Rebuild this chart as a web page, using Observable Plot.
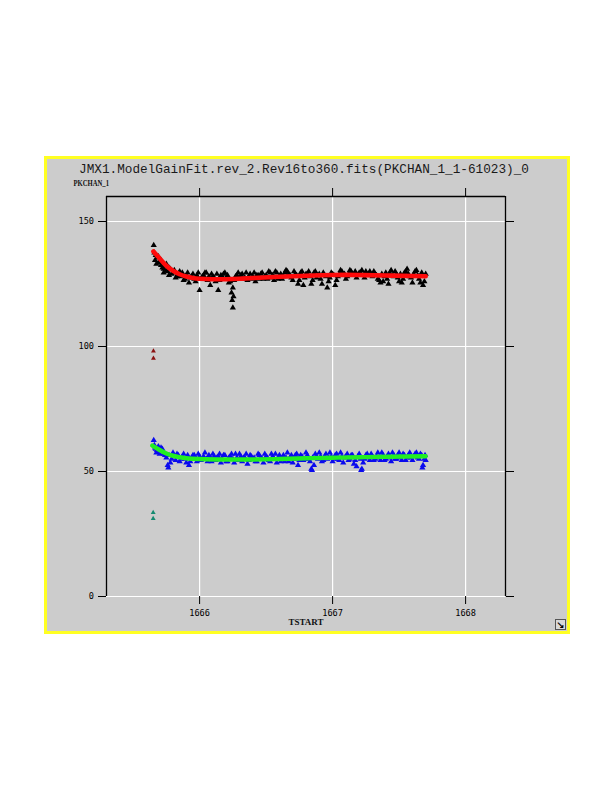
<!DOCTYPE html>
<html>
<head>
<meta charset="utf-8">
<script src="https://cdn.jsdelivr.net/npm/d3@7"></script>
<script src="https://cdn.jsdelivr.net/npm/@observablehq/plot@0.6"></script>
<style>
  html, body { margin: 0; padding: 0; background: #ffffff; }
  #wrap { position: relative; width: 612px; height: 792px; overflow: hidden; }
  #wrap > svg { position: absolute; left: 0; top: 0; }
</style>
</head>
<body>
<div id="wrap"></div>
<script>
// ---------- data ----------
const titleText = "JMX1.ModelGainFit.rev_2.Rev16to360.fits(PKCHAN_1_1-61023)_0";
const yLabel = "PKCHAN_1";
const xLabel = "TSTART";
const xTicks = [1666, 1667, 1668];
const yTicks = [0, 50, 100, 150];

// upper (black) measured points [TSTART, PKCHAN_1]
const highPoints = [
  [1665.655,140.5],[1665.665,134.5],[1665.675,133.0],[1665.69,136.0],[1665.71,132.5],[1665.73,129.5],[1665.75,133.0],[1665.77,128.5],
  [1665.66,137.5],[1665.68,135.5],[1665.70,134.0],[1665.72,131.5],[1665.74,132.0],[1665.76,130.0],[1665.78,131.0],[1665.80,129.5],
  [1665.82,127.5],[1665.84,129.0],[1665.86,128.0],[1665.88,126.5],[1665.90,128.5],[1665.92,125.5],[1665.94,128.0],[1665.96,127.0],
  [1665.98,128.5],[1666.00,122.5],[1666.02,128.0],[1666.04,129.5],[1666.06,126.5],[1666.08,124.5],[1666.10,128.0],[1666.12,126.0],
  [1666.14,122.5],[1666.16,128.5],[1666.18,129.0],[1666.20,127.0],[1666.22,125.5],[1666.24,121.5],[1666.245,118.5],[1666.25,115.5],
  [1666.255,120.0],[1666.26,126.5],[1666.28,128.5],[1666.30,127.0],[1666.32,129.0],[1666.34,127.5],[1666.36,126.5],[1666.38,129.0],
  [1666.40,128.0],[1666.42,126.0],[1666.44,128.5],[1666.46,129.0],[1666.48,127.0],[1666.50,128.5],[1666.52,130.0],[1666.54,127.5],
  [1666.56,126.5],[1666.58,129.5],[1666.60,128.0],[1666.62,127.0],[1666.64,129.5],[1666.66,130.0],[1666.68,128.5],[1666.70,126.5],
  [1666.72,129.0],[1666.74,125.0],[1666.76,129.5],[1666.78,124.5],[1666.80,129.0],[1666.82,130.0],[1666.84,125.0],[1666.86,129.5],
  [1666.88,127.5],[1666.90,129.0],[1666.92,125.0],[1666.94,128.5],[1666.96,123.5],[1666.98,127.5],[1667.00,129.0],[1667.02,124.5],
  [1667.04,128.0],[1667.06,130.5],[1667.08,128.5],[1667.10,127.0],[1667.12,129.0],[1667.14,130.0],[1667.16,128.5],[1667.18,127.5],
  [1667.20,129.5],[1667.22,130.5],[1667.24,127.5],[1667.26,128.5],[1667.28,130.0],[1667.30,128.0],[1667.32,129.0],[1667.34,127.0],
  [1667.36,125.5],[1667.38,126.0],[1667.40,129.5],[1667.42,125.0],[1667.44,130.5],[1667.46,128.0],[1667.48,129.0],[1667.50,126.0],
  [1667.52,125.5],[1667.54,129.5],[1667.56,131.0],[1667.58,128.0],[1667.60,125.5],[1667.62,130.0],[1667.64,128.5],[1667.66,125.5],
  [1667.68,124.5],[1667.70,129.0],
  [1665.67,136.5],[1665.69,133.5],[1665.71,134.5],[1665.73,131.0],[1665.75,130.5],[1665.77,131.5],[1665.79,129.0],[1665.81,130.5],
  [1665.83,128.0],[1665.85,130.0],[1665.87,129.5],[1665.89,127.0],[1665.91,129.5],[1665.93,127.5],[1665.95,129.0],[1665.97,126.0],
  [1665.99,129.5],[1666.01,127.0],[1666.03,128.5],[1666.05,129.5],[1666.07,128.0],[1666.09,129.0],[1666.11,127.5],[1666.13,129.0],
  [1666.15,126.5],[1666.17,128.0],[1666.19,129.5],[1666.21,128.5],[1666.23,126.0],[1666.25,123.5],[1666.27,128.0],[1666.29,129.5],
  [1666.31,128.5],[1666.33,127.0],[1666.35,129.5],[1666.37,128.0],[1666.39,127.0],[1666.41,129.5],[1666.43,128.5],[1666.45,127.0],
  [1666.47,129.5],[1666.49,128.0],[1666.51,127.0],[1666.53,129.5],[1666.55,128.5],[1666.57,130.0],[1666.59,127.0],[1666.61,129.0],
  [1666.63,128.0],[1666.65,130.5],[1666.67,129.0],[1666.69,127.5],[1666.71,130.0],[1666.73,128.5],[1666.75,126.5],[1666.77,130.0],
  [1666.79,127.5],[1666.81,129.0],[1666.83,128.0],[1666.85,126.5],[1666.87,130.0],[1666.89,128.5],[1666.91,127.0],[1666.93,129.5],
  [1666.95,128.0],[1666.97,126.0],[1666.99,129.5],[1667.01,128.5],[1667.03,126.5],[1667.05,129.0],[1667.07,130.0],[1667.09,129.0],
  [1667.11,128.0],[1667.13,130.5],[1667.15,129.0],[1667.17,130.0],[1667.19,128.5],[1667.21,129.5],[1667.23,128.5],[1667.25,130.0],
  [1667.27,129.0],[1667.29,128.5],[1667.31,130.0],[1667.33,128.5],[1667.35,126.5],[1667.37,129.0],[1667.39,128.0],[1667.41,127.0],
  [1667.43,129.5],[1667.45,128.5],[1667.47,130.0],[1667.49,127.5],[1667.51,129.0],[1667.53,127.0],[1667.55,130.0],[1667.57,129.0],
  [1667.59,127.5],[1667.61,129.0],[1667.63,130.5],[1667.65,127.0],[1667.67,129.5],[1667.69,126.0]
];

// lower (blue) measured points
const lowPoints = [
  [1665.655,62.5],[1665.665,59.5],[1665.675,57.5],[1665.69,60.0],[1665.71,58.0],[1665.765,51.5],
  [1665.66,60.5],[1665.68,58.5],[1665.70,57.0],[1665.72,59.0],[1665.74,56.5],[1665.76,52.5],[1665.78,53.5],[1665.80,57.5],
  [1665.82,54.5],[1665.84,56.5],[1665.86,55.0],[1665.88,57.0],[1665.90,53.5],[1665.92,52.5],[1665.94,55.5],[1665.96,56.5],
  [1665.98,54.0],[1666.00,56.0],[1666.02,55.0],[1666.04,57.5],[1666.06,54.0],[1666.08,55.5],[1666.10,57.0],[1666.12,54.5],
  [1666.14,56.0],[1666.16,53.5],[1666.18,56.5],[1666.20,54.0],[1666.22,55.5],[1666.24,57.0],[1666.26,53.5],[1666.28,55.5],
  [1666.30,57.0],[1666.32,54.0],[1666.34,55.5],[1666.36,53.0],[1666.38,56.5],[1666.40,55.0],[1666.42,54.0],[1666.44,57.0],
  [1666.46,55.5],[1666.48,53.5],[1666.50,56.0],[1666.52,54.5],[1666.54,57.0],[1666.56,55.0],[1666.58,53.5],[1666.60,56.5],
  [1666.62,55.0],[1666.64,54.0],[1666.66,57.5],[1666.68,55.5],[1666.70,53.5],[1666.72,56.5],[1666.74,52.5],[1666.76,56.5],
  [1666.78,54.5],[1666.80,57.5],[1666.82,55.0],[1666.84,51.0],[1666.845,50.5],[1666.86,52.5],[1666.88,56.0],[1666.90,57.5],
  [1666.92,54.0],[1666.94,56.0],[1666.96,55.0],[1666.98,57.5],[1667.00,54.0],[1667.02,56.5],[1667.04,55.0],[1667.06,57.5],
  [1667.08,53.5],[1667.10,56.0],[1667.12,54.5],[1667.14,56.5],[1667.16,53.0],[1667.18,52.0],[1667.20,57.0],[1667.215,50.5],
  [1667.22,51.0],[1667.24,55.0],[1667.26,57.0],[1667.28,54.5],[1667.30,56.0],[1667.32,55.0],[1667.34,57.5],[1667.36,54.5],
  [1667.38,56.5],[1667.40,55.0],[1667.42,57.0],[1667.44,54.0],[1667.46,56.5],[1667.48,55.0],[1667.50,57.5],[1667.52,54.5],
  [1667.54,56.5],[1667.56,55.5],[1667.58,57.5],[1667.60,54.5],[1667.62,57.0],[1667.64,55.5],[1667.66,57.0],[1667.675,51.5],
  [1667.68,52.5],[1667.695,56.5],[1667.70,54.5],
  [1665.67,59.0],[1665.69,58.0],[1665.71,59.5],[1665.73,57.0],[1665.75,55.5],[1665.77,56.5],[1665.79,55.0],[1665.81,56.0],
  [1665.83,57.0],[1665.85,54.0],[1665.87,56.0],[1665.89,55.0],[1665.91,56.5],[1665.93,54.0],[1665.95,56.5],[1665.97,55.0],
  [1665.99,57.0],[1666.01,54.5],[1666.03,56.0],[1666.05,55.0],[1666.07,56.5],[1666.09,54.0],[1666.11,56.0],[1666.13,55.5],
  [1666.15,57.0],[1666.17,55.0],[1666.19,56.5],[1666.21,54.0],[1666.23,56.0],[1666.25,55.0],[1666.27,57.0],[1666.29,54.5],
  [1666.31,56.0],[1666.33,55.5],[1666.35,57.0],[1666.37,54.5],[1666.39,56.0],[1666.41,55.5],[1666.43,54.0],[1666.45,56.5],
  [1666.47,55.0],[1666.49,57.0],[1666.51,55.5],[1666.53,54.0],[1666.55,56.0],[1666.57,57.0],[1666.59,55.0],[1666.61,54.0],
  [1666.63,56.5],[1666.65,55.5],[1666.67,54.0],[1666.69,56.5],[1666.71,55.0],[1666.73,57.0],[1666.75,54.5],[1666.77,56.0],
  [1666.79,55.0],[1666.81,56.5],[1666.83,54.0],[1666.85,55.5],[1666.87,57.0],[1666.89,55.0],[1666.91,56.0],[1666.93,54.5],
  [1666.95,57.0],[1666.97,55.5],[1666.99,56.0],[1667.01,55.0],[1667.03,57.0],[1667.05,54.5],[1667.07,56.0],[1667.09,55.5],
  [1667.11,57.0],[1667.13,55.0],[1667.15,56.5],[1667.17,54.5],[1667.19,56.0],[1667.21,55.0],[1667.23,53.5],[1667.25,56.5],
  [1667.27,55.5],[1667.29,57.0],[1667.31,54.5],[1667.33,56.0],[1667.35,55.5],[1667.37,57.5],[1667.39,54.5],[1667.41,56.0],
  [1667.43,55.5],[1667.45,57.5],[1667.47,55.0],[1667.49,56.5],[1667.51,55.5],[1667.53,57.0],[1667.55,54.5],[1667.57,56.5],
  [1667.59,55.5],[1667.61,56.0],[1667.63,57.5],[1667.65,55.0],[1667.67,56.5],[1667.69,55.0]
];

// outlier points near the start
const highOutliers = [[1665.653, 98.2], [1665.653, 95.3]];
const lowOutliers = [[1665.651, 33.6], [1665.651, 31.2]];

// model fit curves
const highFit = [
  [1665.653,138.0],[1665.70,135.2],[1665.75,132.3],[1665.80,130.3],[1665.85,128.9],[1665.90,128.0],[1665.95,127.4],
  [1666.00,127.1],[1666.10,126.9],[1666.20,126.9],[1666.30,127.1],[1666.40,127.4],[1666.60,127.9],[1666.80,128.3],
  [1667.00,128.6],[1667.20,128.6],[1667.40,128.4],[1667.60,128.2],[1667.70,128.1]
];
const lowFit = [
  [1665.645,60.4],[1665.70,58.6],[1665.75,57.2],[1665.80,56.3],[1665.85,55.7],[1665.90,55.3],[1666.00,55.0],
  [1666.20,54.8],[1666.40,54.8],[1666.60,55.0],[1666.80,55.3],[1667.00,55.5],[1667.20,55.7],[1667.40,55.9],[1667.70,56.1]
];

// ---------- background panel and labels ----------
const W = 612, H = 792;
const wrap = document.getElementById("wrap");
const bg = d3.create("svg").attr("width", W).attr("height", H);
bg.append("rect").attr("x", 45.5).attr("y", 157.5).attr("width", 523).attr("height", 475)
  .attr("fill", "#cccccc").attr("stroke", "#ffff22").attr("stroke-width", 3);
bg.append("text").attr("x", 79).attr("y", 172.5).attr("textLength", 450).attr("lengthAdjust", "spacingAndGlyphs")
  .attr("font-family", "Liberation Mono, DejaVu Sans Mono, monospace").attr("font-size", 12.7).attr("fill", "#1a1a1a")
  .text(titleText);
bg.append("text").attr("x", 73.5).attr("y", 185.8).attr("textLength", 35.5).attr("lengthAdjust", "spacingAndGlyphs")
  .attr("font-family", "Liberation Serif, serif").attr("font-weight", "bold").attr("font-size", 7.5).attr("fill", "#111")
  .text(yLabel);
bg.append("text").attr("x", 288.5).attr("y", 625.3).attr("textLength", 35).attr("lengthAdjust", "spacingAndGlyphs")
  .attr("font-family", "Liberation Serif, serif").attr("font-weight", "bold").attr("font-size", 9).attr("fill", "#111")
  .text(xLabel);
// resize corner icon
const ic = bg.append("g");
ic.append("rect").attr("x", 555.5).attr("y", 619.5).attr("width", 10).attr("height", 10)
  .attr("fill", "#d8d8d8").attr("stroke", "#555").attr("stroke-width", 1);
ic.append("text").attr("x", 560.5).attr("y", 628.5).attr("text-anchor", "middle")
  .attr("font-family", "DejaVu Sans").attr("font-size", 10).attr("font-weight", "bold").attr("fill", "#000").text("↘");
wrap.appendChild(bg.node());

// ---------- chart ----------
const fx = d => d[0], fy = d => d[1];
const chart = Plot.plot({
  width: W,
  height: H,
  marginLeft: 106,
  marginRight: 107,
  marginTop: 196,
  marginBottom: 196,
  x: {domain: [1665.3, 1668.3]},
  y: {domain: [0, 160]},
  style: {background: "transparent", fontFamily: "DejaVu Sans Mono, monospace", fontSize: "8.6px", color: "#000", overflow: "visible"},
  marks: [
    Plot.gridX(xTicks, {stroke: "#ffffff", strokeOpacity: 1, strokeWidth: 1.2}),
    Plot.gridY(yTicks, {stroke: "#ffffff", strokeOpacity: 1, strokeWidth: 1.2}),
    Plot.ruleX([1665.3], {y1: 0, y2: 160, stroke: "#000", strokeWidth: 1.3}),
    Plot.ruleX([1668.3], {y1: 0, y2: 160, stroke: "#000", strokeWidth: 1.3}),
    Plot.ruleY([160], {x1: 1665.3, x2: 1668.3, stroke: "#000", strokeWidth: 1.3}),
    Plot.axisY(yTicks, {anchor: "left", tickSize: 8, tickPadding: 4.5, label: null, tickFormat: d => String(d)}),
    Plot.axisY(yTicks, {anchor: "right", tickSize: 8, label: null, tickFormat: () => ""}),
    Plot.axisX(xTicks, {anchor: "bottom", tickSize: 8, tickPadding: 5, label: null, tickFormat: d => String(d)}),
    Plot.axisX(xTicks, {anchor: "top", tickSize: 9, label: null, tickFormat: () => ""}),
    Plot.dot(highPoints, {x: fx, y: fy, symbol: "triangle", r: 2.3, fill: "#000000", stroke: "none"}),
    Plot.line(highFit, {x: fx, y: fy, stroke: "#ff0a0a", strokeWidth: 4.6, curve: "natural"}),
    Plot.dot(lowPoints, {x: fx, y: fy, symbol: "triangle", r: 2.3, fill: "#0a0aee", stroke: "none"}),
    Plot.line(lowFit, {x: fx, y: fy, stroke: "#22ee22", strokeWidth: 4.4, curve: "natural"}),
    Plot.dot(highOutliers, {x: fx, y: fy, symbol: "triangle", r: 1.8, fill: "#8a1010", stroke: "none"}),
    Plot.dot(lowOutliers, {x: fx, y: fy, symbol: "triangle", r: 1.8, fill: "#138a70", stroke: "none"})
  ]
});
wrap.appendChild(chart);
</script>
</body>
</html>
